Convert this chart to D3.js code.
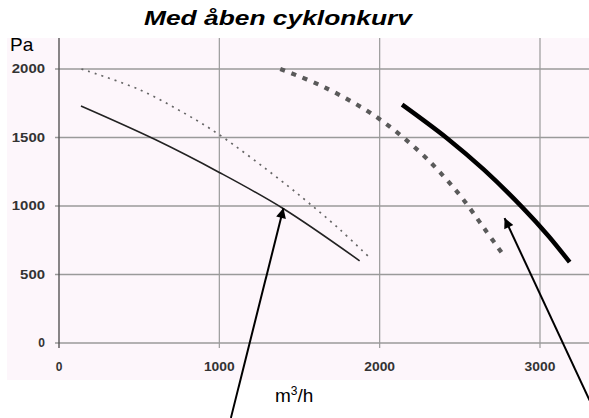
<!DOCTYPE html>
<html><head><meta charset="utf-8">
<script src="https://cdn.jsdelivr.net/npm/d3@7"></script>
<style>body{margin:0;background:#fff}svg{display:block}</style>
</head><body><svg id="c" width="589" height="418"></svg>
<script>
const title = "Med åben cyklonkurv";
const xTicks = [0, 1000, 2000, 3000];
const yTicks = [0, 500, 1000, 1500, 2000];
// series: [flow m3/h, pressure Pa]
const thinSolid = [[137,1730],[600,1485],[1000,1245],[1400,980],[1875,600]];
const thinDotted = [[140,2000],[500,1850],[800,1665],[1000,1520],[1380,1190],[1560,1020],[1750,830],[1940,620]];
const thickDashed = [[1380,2000],[1650,1870],[1980,1650],[2250,1395],[2400,1215],[2520,1050],[2650,840],[2785,620]];
const thickSolid = [[2140,1740],[2420,1495],[2650,1265],[2890,990],[3050,785],[3185,590]];
// annotation arrows: [tail, tip] in data units
const arrows = [[[1072,-547],[1400,985]],[[3310,-420],[2779,912]]];

const svg = d3.select("#c");
const x = d3.scaleLinear().domain([0,3000]).range([59,540]);
const y = d3.scaleLinear().domain([0,2000]).range([343,69]);
const FONT = "Arial, Liberation Sans, sans-serif";

svg.append("rect").attr("x",7).attr("y",38).attr("width",582).attr("height",342).attr("fill","#fdf6fb");

// gridlines
svg.append("g").selectAll("line").data(yTicks).join("line")
  .attr("x1",55).attr("x2",589).attr("y1",d=>y(d)).attr("y2",d=>y(d))
  .attr("stroke","#9a9a9a").attr("stroke-width",1.4);
svg.append("g").selectAll("line").data(xTicks.slice(1)).join("line")
  .attr("x1",d=>x(d)).attr("x2",d=>x(d)).attr("y1",38).attr("y2",348)
  .attr("stroke","#9a9a9a").attr("stroke-width",1.2);
svg.append("line").attr("x1",x(0)).attr("x2",x(0)).attr("y1",38).attr("y2",348)
  .attr("stroke","#555").attr("stroke-width",1.4);

// tick labels
svg.append("g").selectAll("text").data(yTicks).join("text")
  .attr("x",45).attr("y",d=>y(d)).attr("dy","0.36em").attr("text-anchor","end")
  .attr("font-family",FONT).attr("font-size",12).attr("font-weight","bold")
  .attr("fill","#333").each(function(d){ if(String(d).length>1) d3.select(this).attr("textLength",String(d).length*8.3).attr("lengthAdjust","spacingAndGlyphs"); })
  .text(d=>d);
svg.append("g").selectAll("text").data(xTicks).join("text")
  .attr("x",d=>x(d)).attr("y",367).attr("dy","0.36em").attr("text-anchor","middle")
  .attr("font-family",FONT).attr("font-size",12).attr("font-weight","bold")
  .attr("fill","#333").each(function(d){ if(String(d).length>1) d3.select(this).attr("textLength",String(d).length*7.7).attr("lengthAdjust","spacingAndGlyphs"); })
  .text(d=>d);

const line = d3.line().x(d=>x(d[0])).y(d=>y(d[1])).curve(d3.curveCatmullRom.alpha(0.5));
svg.append("path").datum(thinSolid).attr("d",line).attr("fill","none").attr("stroke","#222").attr("stroke-width",1.6);
svg.append("path").datum(thinDotted).attr("d",line).attr("fill","none").attr("stroke","#666").attr("stroke-width",1.7).attr("stroke-dasharray","2,5");
svg.append("path").datum(thickDashed).attr("d",line).attr("fill","none").attr("stroke","#5a5a5a").attr("stroke-width",4.2).attr("stroke-dasharray","5,7");
svg.append("path").datum(thickSolid).attr("d",line).attr("fill","none").attr("stroke","#000").attr("stroke-width",4.5);

// arrows
const defs = svg.append("defs");
defs.append("marker").attr("id","ah").attr("viewBox","0 0 10 10").attr("refX",10).attr("refY",5)
  .attr("markerWidth",16).attr("markerHeight",10).attr("markerUnits","userSpaceOnUse").attr("orient","auto")
  .append("path").attr("d","M0,0 L10,5 L0,10 Z").attr("fill","#000");
svg.append("g").selectAll("line").data(arrows).join("line")
  .attr("x1",d=>x(d[0][0])).attr("y1",d=>y(d[0][1])).attr("x2",d=>x(d[1][0])).attr("y2",d=>y(d[1][1]))
  .attr("stroke","#000").attr("stroke-width",2).attr("marker-end","url(#ah)");

// texts
svg.append("text").attr("x",278).attr("y",25).attr("text-anchor","middle")
  .attr("font-family",FONT).attr("font-size",21).attr("font-weight","bold").attr("font-style","italic")
  .attr("textLength",268).attr("lengthAdjust","spacingAndGlyphs").text(title);
svg.append("text").attr("x",10).attr("y",51)
  .attr("font-family",FONT).attr("font-size",19).text("Pa");
const mt = svg.append("text").attr("x",275).attr("y",402)
  .attr("font-family",FONT).attr("font-size",19);
mt.append("tspan").text("m");
mt.append("tspan").attr("dy",-7).attr("font-size",12).text("3");
mt.append("tspan").attr("dy",7).text("/h");
</script></body></html>
